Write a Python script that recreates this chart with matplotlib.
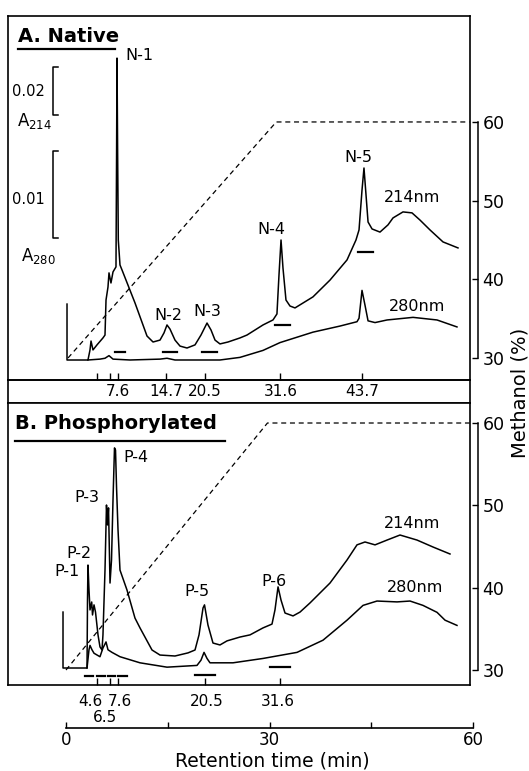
import matplotlib
matplotlib.use("Agg")
import matplotlib.pyplot as plt
from matplotlib.lines import Line2D

# ---- A. Native: absorbance traces (time in min, absorbance) ----
native_214_time = [0.15, 0.15, 3.24, 3.54, 3.69, 3.98, 4.57, 5.45, 5.75, 5.90, 6.19, 6.34, 6.63,
                   6.93, 7.37, 7.46, 7.52, 7.61, 7.71, 7.96, 8.26, 10.17, 11.94, 12.83, 13.86,
                   14.45, 14.89, 15.33, 16.07, 16.81, 17.84, 19.02, 19.90, 20.79, 21.38, 21.97,
                   22.70, 23.88, 25.65, 26.68, 29.04, 30.52, 31.10, 31.40, 31.70, 31.99, 32.43,
                   33.02, 33.76, 36.41, 38.92, 41.43, 42.75, 43.20, 43.64, 43.93, 44.23, 44.53,
                   45.12, 46.29, 47.47, 48.21, 49.68, 51.01, 52.19, 53.66, 55.58, 57.79]
native_214_abs = [0.0233, 0.0, 0.0, 0.0042, 0.0079, 0.0042, 0.0063, 0.0092, 0.0104, 0.0250,
                  0.0304, 0.0363, 0.0321, 0.0367, 0.0388, 0.0875, 0.1258, 0.0875, 0.0500, 0.0396,
                  0.0375, 0.0238, 0.0100, 0.0075, 0.0083, 0.0113, 0.0146, 0.0129, 0.0083, 0.0058,
                  0.0050, 0.0063, 0.0104, 0.0154, 0.0125, 0.0083, 0.0067, 0.0075, 0.0092, 0.0104,
                  0.0146, 0.0167, 0.0192, 0.0354, 0.0500, 0.0383, 0.0250, 0.0225, 0.0217, 0.0263,
                  0.0333, 0.0417, 0.0500, 0.0542, 0.0708, 0.0800, 0.0688, 0.0575, 0.0546, 0.0533,
                  0.0563, 0.0592, 0.0617, 0.0613, 0.0583, 0.0542, 0.0492, 0.0467]

native_280_time = [3.24, 5.01, 5.75, 6.34, 6.93, 9.44, 13.86, 14.89, 16.07, 22.70, 25.65, 29.04,
                   31.55, 36.41, 40.39, 42.90, 43.20, 43.64, 44.08, 44.53, 45.56, 47.33, 51.16,
                   54.70, 57.64]
native_280_abs = [0.0, 0.0001, 0.0002, 0.0005, 0.0001, 0.0, 0.0001, 0.0002, 0.0, 0.0, 0.0003,
                  0.0011, 0.0020, 0.0032, 0.0039, 0.0044, 0.0048, 0.0080, 0.0063, 0.0045, 0.0043,
                  0.0046, 0.0049, 0.0046, 0.0038]

# ---- B. Phosphorylated ----
phos_214_time = [-0.44, -0.44, 3.10, 3.17, 3.24, 3.39, 3.54, 3.79, 3.91, 4.13, 4.35, 4.72, 5.01,
                 5.31, 5.45, 5.75, 5.97, 6.12, 6.27, 6.49, 6.71, 6.93, 7.15, 7.30, 7.45, 7.67,
                 7.96, 8.99, 10.17, 10.91, 12.68, 13.86, 16.07, 17.99, 19.02, 19.61, 20.20, 20.42,
                 20.93, 21.67, 22.70, 23.74, 25.65, 27.13, 29.04, 30.37, 30.81, 31.26, 31.70,
                 32.29, 33.47, 34.50, 35.97, 38.92, 41.43, 42.90, 44.08, 45.56, 47.33, 49.24,
                 51.75, 54.11, 56.61]
phos_214_abs = [0.0233, 0.0, 0.0, 0.0283, 0.0429, 0.0325, 0.0242, 0.0275, 0.0221, 0.0263, 0.0233,
                0.0138, 0.0088, 0.0075, 0.0138, 0.0408, 0.0679, 0.0596, 0.0667, 0.0354, 0.0450,
                0.0700, 0.0917, 0.0908, 0.0754, 0.0575, 0.0408, 0.0325, 0.0208, 0.0167, 0.0075,
                0.0054, 0.0050, 0.0063, 0.0075, 0.0138, 0.0250, 0.0263, 0.0179, 0.0104, 0.0096,
                0.0113, 0.0129, 0.0138, 0.0167, 0.0183, 0.0242, 0.0338, 0.0283, 0.0229, 0.0217,
                0.0233, 0.0271, 0.0354, 0.0450, 0.0513, 0.0525, 0.0513, 0.0533, 0.0554, 0.0533,
                0.0504, 0.0475]

phos_280_time = [3.10, 3.39, 3.54, 3.83, 4.13, 5.01, 5.45, 5.90, 6.19, 6.78, 7.96, 10.91, 14.89,
                 19.31, 19.90, 20.35, 20.79, 21.23, 24.62, 29.04, 34.06, 37.89, 41.43, 43.79,
                 45.85, 48.80, 50.72, 52.63, 54.70, 55.88, 57.64]
phos_280_abs = [0.0, 0.0021, 0.0026, 0.0021, 0.0017, 0.0013, 0.0023, 0.0030, 0.0021, 0.0018,
                0.0013, 0.0006, 0.0001, 0.0003, 0.0009, 0.0018, 0.0011, 0.0006, 0.0006, 0.0011,
                0.0018, 0.0032, 0.0055, 0.0072, 0.0077, 0.0076, 0.0077, 0.0072, 0.0064, 0.0055,
                0.0049]

# methanol gradient (%)
native_grad_time = [0.3, 31.0, 59.5]
native_grad_meoh = [30, 60, 60]
phos_grad_time = [0.0, 29.7, 59.5]
phos_grad_meoh = [30, 60, 60]

# retention times of collected peaks
native_peak_times = [4.6, 6.5, 7.6, 14.7, 20.5, 31.6, 43.7]
native_peak_labels = ["", "", "7.6", "14.7", "20.5", "31.6", "43.7"]
phos_peak_times = [4.6, 6.5, 7.6, 20.5, 31.6]

# pooled fractions (start, end, level on 214 trace)
native_pools = [(7.2, 8.7, 0.0033), (14.3, 16.4, 0.0033), (20.0, 22.3, 0.0033),
                (30.8, 33.0, 0.0146), (43.0, 45.3, 0.045)]
phos_pools = [(2.8, 4.0, -0.0033), (4.6, 5.8, -0.0033), (6.2, 7.2, -0.0033), (7.7, 9.0, -0.0033),
              (19.0, 22.0, -0.0029), (30.1, 33.0, 0.0004)]

W, H = 529, 771
XLIM = (-8.55, 59.56)
LW = 1.1


def px(x, y):
    return x / W, 1 - y / H


def box(left, top, right, bottom):
    return [left / W, 1 - bottom / H, (right - left) / W, (bottom - top) / H]


plt.rcParams["font.family"] = "DejaVu Sans"
fig = plt.figure(figsize=(W / 100, H / 100), dpi=100)


def make_panel(rect, ylim214, ylim280, ylim_meoh, t214, a214, t280, a280, gt, gm, pools, ticks, labels):
    ax = fig.add_axes(rect)
    ax.set_xlim(*XLIM)
    ax.set_ylim(*ylim214)
    ax.set_yticks([])
    ax.set_xticks(ticks)
    ax.set_xticklabels(labels)
    ax.tick_params(axis="x", direction="in", length=5, width=1, pad=3, labelsize=11)
    for s in ax.spines.values():
        s.set_linewidth(1.2)
    ax.plot(t214, a214, color="black", lw=LW)
    for x0, x1, lvl in pools:
        ax.plot([x0, x1], [lvl, lvl], color="black", lw=1.6)

    ax280 = ax.twinx()
    ax280.set_ylim(*ylim280)
    ax280.axis("off")
    ax280.plot(t280, a280, color="black", lw=LW)

    axm = ax.twinx()
    axm.set_ylim(*ylim_meoh)
    axm.plot(gt, gm, color="black", lw=0.9, linestyle=(0, (4, 3)))
    for side in ["left", "top", "bottom"]:
        axm.spines[side].set_visible(False)
    axm.spines["right"].set_position(("outward", 6))
    axm.spines["right"].set_bounds(30, 60)
    axm.spines["right"].set_linewidth(1.1)
    axm.set_yticks([30, 40, 50, 60])
    axm.tick_params(axis="y", direction="in", length=4, width=1, pad=3, labelsize=12.5)
    return ax, ax280


# Panel A
ax_a, ax_a280 = make_panel(box(8, 16, 470, 380), (-0.00833, 0.14333), (-0.0023, 0.03954),
                           (27.20, 73.47), native_214_time, native_214_abs,
                           native_280_time, native_280_abs, native_grad_time, native_grad_meoh,
                           native_pools, native_peak_times, native_peak_labels)

# strip under panel A holding its tick labels
strip = fig.add_axes(box(8, 380, 470, 403))
strip.set_xticks([])
strip.set_yticks([])
strip.set_facecolor("none")
for s in strip.spines.values():
    s.set_linewidth(1.2)

# Panel B
ax_b, ax_b280 = make_panel(box(8, 403, 470, 685), (-0.00708, 0.1104), (-0.00195, 0.03046),
                           (28.18, 62.43), phos_214_time, phos_214_abs,
                           phos_280_time, phos_280_abs, phos_grad_time, phos_grad_meoh,
                           phos_pools, phos_peak_times, [""] * len(phos_peak_times))

# absorbance scale bars
ax_a.plot([-1.2, -1.9, -1.9, -1.2], [0.102, 0.102, 0.102 + 0.02, 0.102 + 0.02], color="black", lw=1.1)
ax_a280.plot([-1.2, -1.9, -1.9, -1.2], [0.014, 0.014, 0.014 + 0.01, 0.014 + 0.01], color="black", lw=1.1)
fig.text(*px(28, 91), "0.02", ha="center", va="center", fontsize=10.5)
fig.text(*px(35, 121), "A$_{214}$", ha="center", va="center", fontsize=12)
fig.text(*px(28, 200), "0.01", ha="center", va="center", fontsize=10.5)
fig.text(*px(38, 256), "A$_{280}$", ha="center", va="center", fontsize=12)

# panel titles
fig.text(*px(18, 37), "A. Native", ha="left", va="center", fontsize=14, fontweight="bold")
fig.add_artist(Line2D([18 / W, 115 / W], [1 - 49 / H] * 2, color="black", lw=1.6))
fig.text(*px(15, 423), "B. Phosphorylated", ha="left", va="center", fontsize=14, fontweight="bold")
fig.add_artist(Line2D([15 / W, 225 / W], [1 - 441 / H] * 2, color="black", lw=1.6))

# peak labels
LBL = 11.5
fig.text(*px(125, 56), "N-1", ha="left", va="center", fontsize=LBL)
fig.text(*px(168, 316), "N-2", ha="center", va="center", fontsize=LBL)
fig.text(*px(207, 312), "N-3", ha="center", va="center", fontsize=LBL)
fig.text(*px(271, 229), "N-4", ha="center", va="center", fontsize=LBL)
fig.text(*px(358, 157), "N-5", ha="center", va="center", fontsize=LBL)
fig.text(*px(412, 198), "214nm", ha="center", va="center", fontsize=LBL)
fig.text(*px(417, 307), "280nm", ha="center", va="center", fontsize=LBL)

fig.text(*px(67, 572), "P-1", ha="center", va="center", fontsize=LBL)
fig.text(*px(79, 554), "P-2", ha="center", va="center", fontsize=LBL)
fig.text(*px(87, 497), "P-3", ha="center", va="center", fontsize=LBL)
fig.text(*px(136, 457), "P-4", ha="center", va="center", fontsize=LBL)
fig.text(*px(197, 591), "P-5", ha="center", va="center", fontsize=LBL)
fig.text(*px(274, 581), "P-6", ha="center", va="center", fontsize=LBL)
fig.text(*px(412, 523), "214nm", ha="center", va="center", fontsize=LBL)
fig.text(*px(415, 588), "280nm", ha="center", va="center", fontsize=LBL)

# crowded tick labels of panel B
fig.text(*px(90, 701), "4.6", ha="center", va="center", fontsize=11)
fig.text(*px(120, 701), "7.6", ha="center", va="center", fontsize=11)
fig.text(*px(105, 717), "6.5", ha="center", va="center", fontsize=11)
fig.text(*px(207, 701), "20.5", ha="center", va="center", fontsize=11)
fig.text(*px(278, 701), "31.6", ha="center", va="center", fontsize=11)

# time axis
ax_t = fig.add_axes(box(66, 718, 473, 728))
ax_t.set_xlim(0, 60)
ax_t.set_yticks([])
ax_t.set_facecolor("none")
for side in ["left", "top", "right"]:
    ax_t.spines[side].set_visible(False)
ax_t.spines["bottom"].set_linewidth(1.2)
ax_t.set_xticks([0, 15, 30, 45, 60])
ax_t.set_xticklabels(["0", "", "30", "", "60"])
ax_t.tick_params(axis="x", direction="in", length=4, width=1, pad=2, labelsize=12)
fig.text(*px(272, 761), "Retention time (min)", ha="center", va="center", fontsize=13.5)

fig.text(*px(520, 393), "Methanol (%)", ha="center", va="center", rotation=90, fontsize=14)

fig.savefig("out.png", dpi=100)
